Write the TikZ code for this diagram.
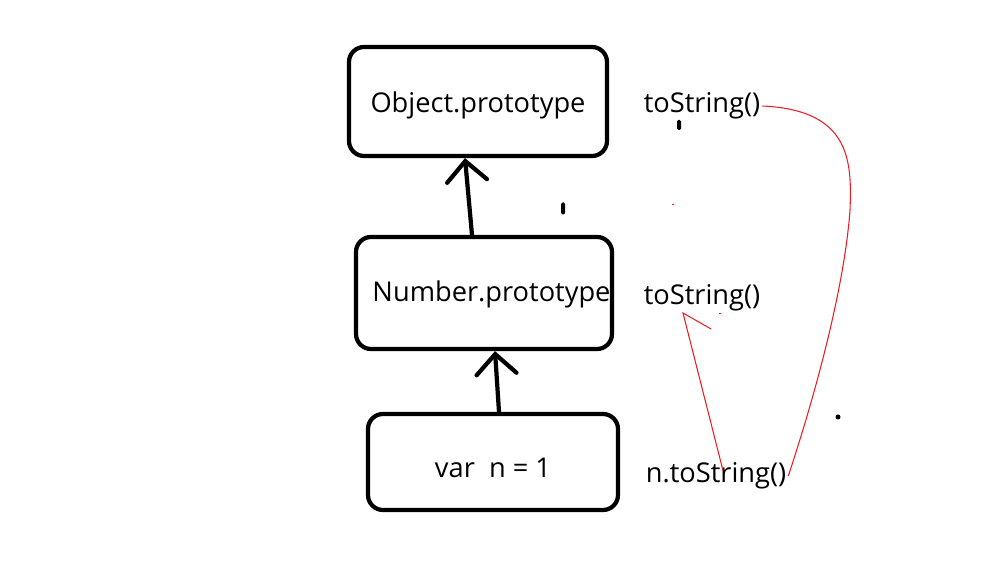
\documentclass[tikz,border=0pt]{standalone}
\usepackage{fontspec}
\setmainfont{Open Sans}
\usepackage{tikz}
\usetikzlibrary{arrows.meta,positioning,calc}
\definecolor{protored}{RGB}{237,28,36}

\begin{document}
\begin{tikzpicture}[
    box/.style={rectangle, rounded corners=0.3cm, draw, line width=2.4pt, inner sep=0pt, align=center, font=\fontsize{15.5}{18}\selectfont},
    call/.style={inner sep=1pt, font=\fontsize{15.5}{18}\selectfont},
    arrow/.style={-{Straight Barb[length=0.4cm, width=0.8cm, line cap=round]}, line width=2.4pt, line cap=round},
    link/.style={draw=protored, line width=0.6pt}
]
    \useasboundingbox (0,0) rectangle (19.94,-11.76);

    % Prototype chain
    \node[box, minimum width=5.16cm, minimum height=2.18cm] (obj) at (9.56,-2.03) {\raisebox{-0.07cm}[\height][\depth]{Object.prototype}};
    \node[box, minimum width=5.12cm, minimum height=2.24cm] (numb) at (9.68,-5.86) {\raisebox{-0.03cm}[\height][\depth]{\hspace*{0.3cm}Number.prototype}};
    \node[box, minimum width=5.0cm, minimum height=1.92cm] (num) at (9.86,-9.24) {\raisebox{-0.12cm}[\height][\depth]{var\ \ n = 1}};

    % Methods
    \node[call] (objts) at (14.04,-2.12) {toString()};
    \node[call] (numbts) at (14.04,-5.96) {toString()};
    \node[call] (ncall) at (14.32,-9.52) {n.toString()};

    % Arrows
    \draw[arrow] ([xshift=-0.24cm]numb.north) -- ([xshift=-0.26cm]obj.south);
    \draw[arrow] ([xshift=0.12cm]num.north) -- ([xshift=0.22cm]numb.south);

    % Lookup lines
    \coordinate (tip) at (13.66,-6.26);
    \draw[link] ([xshift=0.14cm, yshift=-0.2cm]ncall.north) -- (tip) -- ++(0.56,-0.32);
    \draw[link] (objts.east) .. controls (17.0,-2.2) and (17.04,-3.2) .. (17.0,-4.2)
        .. controls (16.9,-5.6) and (16.4,-7.6) .. (ncall.east);

    % Stray marks
    \fill[rounded corners=0.03cm] (13.54,-2.4) rectangle (13.62,-2.6);
    \fill[rounded corners=0.03cm] (11.22,-4.05) rectangle (11.3,-4.29);
    \fill (16.76,-8.34) circle (0.05);
    \fill[protored] (13.44,-4.09) rectangle (13.48,-4.11);
    \fill[protored] (14.37,-6.27) rectangle (14.41,-6.29);
\end{tikzpicture}
\end{document}
